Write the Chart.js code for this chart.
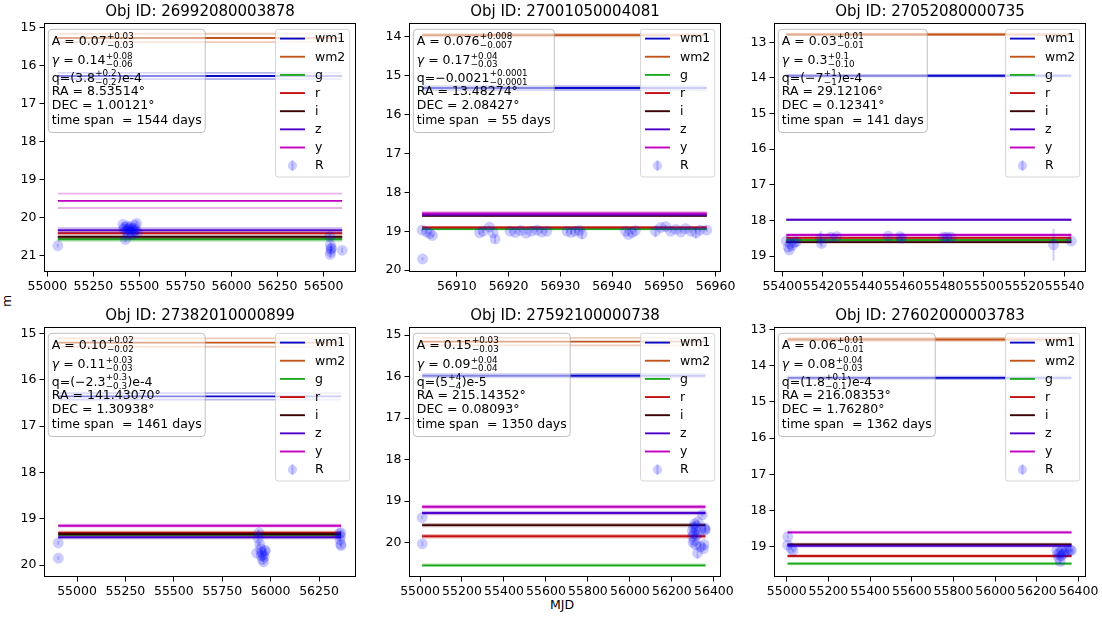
<!DOCTYPE html>
<html><head><meta charset="utf-8">
<script src="https://cdn.jsdelivr.net/npm/chart.js@4.4.1/dist/chart.umd.min.js"></script>
<style>
html,body{margin:0;padding:0;background:#fff;}
body{width:1102px;height:619px;overflow:hidden;position:relative;font-family:"DejaVu Sans",sans-serif;}
canvas{position:absolute;}
.lbl{position:absolute;font:12.5px "DejaVu Sans",sans-serif;color:#000;text-align:center;line-height:16px;height:16px;}
</style></head><body>
<div class="lbl" style="left:-3px;top:293px;width:20px;transform:rotate(-90deg);">m</div>
<div class="lbl" style="left:535px;top:597px;width:54px;">MJD</div>
<script>
// ---------------- data ----------------
const titles = ['Obj ID: 26992080003878','Obj ID: 27001050004081','Obj ID: 27052080000735',
                'Obj ID: 27382010000899','Obj ID: 27592100000738','Obj ID: 27602000003783'];
const bandNames = ['wm1','wm2','g','r','i','z','y'];
const bandColors = ['#0a0ac8','#c2561a','#1aaa1a','#c41010','#3c0000','#5000c8','#c000c0'];
const bandFaint  = ['rgba(10,10,200,0.3)','rgba(194,86,26,0.3)','rgba(26,170,26,0.3)','rgba(196,16,16,0.3)','rgba(60,0,0,0.3)','rgba(80,0,200,0.3)','rgba(192,0,192,0.3)'];

// band levels (wm1, wm2, g, r, i, z, y) and their uncertainties
const bands1 = [16.27, 15.27, 20.57, 20.41, 20.51, 20.33, 19.56];
const bandErr1 = [0.08, 0.11, 0.04, 0.03, 0.03, 0.05, 0.19];
const bands2 = [15.32, 13.96, 18.94, 18.90, 18.60, 18.57, 18.54];
const bandErr2 = [0.05, 0.03, 0.01, 0.01, 0.01, 0.02, 0.03];
const bands3 = [13.94, 12.78, 18.55, 18.49, 18.61, 17.98, 18.41];
const bandErr3 = [0.02, 0.02, 0.01, 0.01, 0.01, 0.01, 0.02];
const bands4 = [16.36, 15.20, 19.36, 19.30, 19.33, 19.40, 19.15];
const bandErr4 = [0.07, 0.09, 0.02, 0.02, 0.02, 0.02, 0.02];
const bands5 = [15.98, 15.16, 20.55, 19.85, 19.58, 19.29, 19.14];
const bandErr5 = [0.04, 0.09, 0.02, 0.03, 0.03, 0.03, 0.03];
const bands6 = [14.34, 13.28, 19.46, 19.25, 18.93, 18.97, 18.60];
const bandErr6 = [0.03, 0.04, 0.02, 0.02, 0.02, 0.02, 0.02];

// R-band photometry
const mjd1 = [55057, 55410, 55415, 55420, 55424, 55428, 55432, 55436, 55440, 55444, 55448, 55452, 55456, 55460, 55464, 55468, 55472, 55476, 55480, 55485, 55490, 56534, 56537, 56540, 56536, 56543, 56539, 56601];
const mag1 = [20.74, 20.18, 20.30, 20.25, 20.58, 20.35, 20.22, 20.30, 20.42, 20.27, 20.33, 20.24, 20.38, 20.30, 20.45, 20.28, 20.35, 20.20, 20.32, 20.15, 20.40, 20.50, 20.72, 20.83, 20.97, 20.80, 20.90, 20.86];
const err1 = [0.05, 0.05, 0.05, 0.05, 0.08, 0.05, 0.05, 0.05, 0.05, 0.05, 0.05, 0.05, 0.05, 0.05, 0.05, 0.05, 0.05, 0.05, 0.05, 0.05, 0.05, 0.08, 0.08, 0.08, 0.10, 0.08, 0.08, 0.07];

const mjd2 = [56903.3, 56903.4, 56904.2, 56904.8, 56905.3, 56914.4, 56915.1, 56916.3, 56917.0, 56917.4, 56920.3, 56921.3, 56922.3, 56923.4, 56924.4, 56925.5, 56926.4, 56927.4, 56931.3, 56932.1, 56932.9, 56933.7, 56934.2, 56942.6, 56943.2, 56943.9, 56944.5, 56948.4, 56949.4, 56950.4, 56951.3, 56952.3, 56953.3, 56954.2, 56955.2, 56956.2, 56957.0, 56958.3];
const mag2 = [18.97, 19.71, 19.02, 19.06, 19.11, 19.04, 19.00, 18.89, 19.04, 19.20, 19.00, 19.03, 18.98, 19.05, 19.00, 18.97, 19.02, 19.00, 19.00, 19.03, 19.00, 18.98, 19.07, 19.00, 19.08, 19.03, 18.98, 19.00, 18.90, 18.88, 19.00, 18.95, 19.02, 18.93, 19.00, 19.04, 18.97, 18.97];
const err2 = [0.04, 0.04, 0.04, 0.04, 0.04, 0.04, 0.04, 0.04, 0.04, 0.10, 0.04, 0.04, 0.04, 0.04, 0.04, 0.04, 0.04, 0.04, 0.04, 0.04, 0.04, 0.04, 0.13, 0.04, 0.04, 0.04, 0.04, 0.15, 0.04, 0.04, 0.04, 0.04, 0.04, 0.04, 0.04, 0.15, 0.04, 0.04];

const mjd3 = [55402, 55403, 55403.5, 55404, 55405, 55406, 55407, 55419, 55419.5, 55424, 55427, 55452.6, 55458.4, 55459.2, 55480, 55481.6, 55483.7, 55534.5, 55543.3];
const mag3 = [18.58, 18.75, 18.83, 18.65, 18.70, 18.62, 18.60, 18.50, 18.65, 18.47, 18.45, 18.44, 18.45, 18.50, 18.47, 18.47, 18.47, 18.68, 18.58];
const err3 = [0.04, 0.05, 0.05, 0.04, 0.04, 0.04, 0.04, 0.20, 0.10, 0.04, 0.04, 0.04, 0.05, 0.05, 0.04, 0.04, 0.04, 0.45, 0.04];

const mjd4 = [54903, 54903.5, 55928, 55936, 55940, 55944, 55948, 55952, 55955, 55958, 55961, 55964, 55967, 55970, 55973, 56356, 56358, 56360, 56362, 56363, 56364];
const mag4 = [19.52, 19.85, 19.74, 19.42, 19.30, 19.55, 19.65, 19.80, 19.72, 19.88, 19.78, 19.93, 19.82, 19.70, 19.68, 19.32, 19.45, 19.38, 19.55, 19.30, 19.58];
const err4 = [0.04, 0.04, 0.05, 0.18, 0.05, 0.05, 0.05, 0.05, 0.05, 0.05, 0.05, 0.06, 0.05, 0.05, 0.05, 0.04, 0.04, 0.04, 0.04, 0.04, 0.04];

const mjd5 = [55010, 55011, 56297, 56299, 56301, 56303, 56305, 56307, 56309, 56311, 56313, 56316, 56319, 56322, 56325, 56330, 56338, 56345, 56350, 56353, 56356, 56358, 56360];
const mag5 = [19.40, 20.03, 19.72, 19.85, 20.00, 19.62, 19.78, 19.95, 19.55, 19.70, 20.05, 19.60, 19.82, 20.25, 19.50, 19.75, 20.10, 19.33, 20.15, 20.05, 19.65, 19.70, 19.68];
const err5 = [0.04, 0.06, 0.05, 0.05, 0.05, 0.05, 0.05, 0.05, 0.05, 0.05, 0.05, 0.05, 0.05, 0.15, 0.05, 0.05, 0.10, 0.05, 0.05, 0.05, 0.05, 0.05, 0.05];

const mjd6 = [55004, 55005, 55022, 55030, 56296, 56300, 56304, 56308, 56312, 56316, 56320, 56325, 56330, 56340, 56350, 56360, 56366];
const mag6 = [18.95, 18.72, 19.04, 19.10, 19.10, 19.20, 19.30, 19.15, 19.40, 19.25, 19.10, 19.20, 19.15, 19.10, 19.12, 19.08, 19.10];
const err6 = [0.04, 0.04, 0.04, 0.04, 0.04, 0.04, 0.05, 0.04, 0.08, 0.04, 0.04, 0.04, 0.04, 0.04, 0.04, 0.04, 0.04];

// axis limits and ticks
const xLim1 = [54982, 56676], yLim1 = [14.876, 21.434];
const xLim2 = [56900.77, 56961.05], yLim2 = [13.649, 20.046];
const xLim3 = [55395.9, 55550.6], yLim3 = [12.459, 19.448];
const xLim4 = [54829.5, 56441], yLim4 = [14.864, 20.257];
const xLim5 = [54947.5, 56434], yLim5 = [14.807, 20.831];
const xLim6 = [54939, 56435.5], yLim6 = [12.937, 19.829];
const xTicks1 = [55000, 55250, 55500, 55750, 56000, 56250, 56500];
const xTicks2 = [56910, 56920, 56930, 56940, 56950, 56960];
const xTicks3 = [55400, 55420, 55440, 55460, 55480, 55500, 55520, 55540];
const xTicks4 = [55000, 55250, 55500, 55750, 56000, 56250];
const xTicks5 = [55000, 55200, 55400, 55600, 55800, 56000, 56200, 56400];
const xTicks6 = [55000, 55200, 55400, 55600, 55800, 56000, 56200, 56400];
const yTicks1 = [15, 16, 17, 18, 19, 20, 21];
const yTicks2 = [14, 15, 16, 17, 18, 19, 20];
const yTicks3 = [13, 14, 15, 16, 17, 18, 19];
const yTicks4 = [15, 16, 17, 18, 19, 20];
const yTicks5 = [15, 16, 17, 18, 19, 20];
const yTicks6 = [13, 14, 15, 16, 17, 18, 19];

// fit info text
const info1 = ['A = 0.07^{+0.03}_{−0.03}', 'γ = 0.14^{+0.08}_{−0.06}', 'q=(3.8^{+0.2}_{−0.2})e-4', 'RA = 8.53514°', 'DEC = 1.00121°', 'time span  = 1544 days'];
const info2 = ['A = 0.076^{+0.008}_{−0.007}', 'γ = 0.17^{+0.04}_{−0.03}', 'q=−0.0021^{+0.0001}_{−0.0001}', 'RA = 13.48274°', 'DEC = 2.08427°', 'time span  = 55 days'];
const info3 = ['A = 0.03^{+0.01}_{−0.01}', 'γ = 0.3^{+0.1}_{−0.10}', 'q=(−7^{+1}_{−1})e-4', 'RA = 29.12106°', 'DEC = 0.12341°', 'time span  = 141 days'];
const info4 = ['A = 0.10^{+0.02}_{−0.02}', 'γ = 0.11^{+0.03}_{−0.03}', 'q=(−2.3^{+0.3}_{−0.3})e-4', 'RA = 141.43070°', 'DEC = 1.30938°', 'time span  = 1461 days'];
const info5 = ['A = 0.15^{+0.03}_{−0.03}', 'γ = 0.09^{+0.04}_{−0.04}', 'q=(5^{+4}_{−4})e-5', 'RA = 215.14352°', 'DEC = 0.08093°', 'time span  = 1350 days'];
const info6 = ['A = 0.06^{+0.01}_{−0.01}', 'γ = 0.08^{+0.04}_{−0.03}', 'q=(1.8^{+0.1}_{−0.1})e-4', 'RA = 216.08353°', 'DEC = 1.76280°', 'time span  = 1362 days'];

// ---------------- layout ----------------
const FONT = '"DejaVu Sans", sans-serif';
const colL = [44, 409, 774], colR = [356, 721, 1086];
const rowT = [23, 327], rowB = [272, 577];
const Y_AXIS_W = 46, TITLE_H = 23, X_AXIS_H = 26, RIGHT_PAD = 20;

const panels = [
  {bands: bands1, bandErr: bandErr1, mjd: mjd1, mag: mag1, err: err1, xLim: xLim1, yLim: yLim1, xTicks: xTicks1, yTicks: yTicks1, info: info1},
  {bands: bands2, bandErr: bandErr2, mjd: mjd2, mag: mag2, err: err2, xLim: xLim2, yLim: yLim2, xTicks: xTicks2, yTicks: yTicks2, info: info2},
  {bands: bands3, bandErr: bandErr3, mjd: mjd3, mag: mag3, err: err3, xLim: xLim3, yLim: yLim3, xTicks: xTicks3, yTicks: yTicks3, info: info3},
  {bands: bands4, bandErr: bandErr4, mjd: mjd4, mag: mag4, err: err4, xLim: xLim4, yLim: yLim4, xTicks: xTicks4, yTicks: yTicks4, info: info4},
  {bands: bands5, bandErr: bandErr5, mjd: mjd5, mag: mag5, err: err5, xLim: xLim5, yLim: yLim5, xTicks: xTicks5, yTicks: yTicks5, info: info5},
  {bands: bands6, bandErr: bandErr6, mjd: mjd6, mag: mag6, err: err6, xLim: xLim6, yLim: yLim6, xTicks: xTicks6, yTicks: yTicks6, info: info6}
];

function parseRich(s) {
  const segs = [];
  const re = /\^\{([^}]*)\}_\{([^}]*)\}/g;
  let last = 0, m;
  const pushText = t => {
    const parts = t.split('γ');
    parts.forEach((p, i) => { if (i > 0) segs.push({t: 'γ', it: true}); if (p) segs.push({t: p}); });
  };
  while ((m = re.exec(s))) {
    if (m.index > last) pushText(s.slice(last, m.index));
    segs.push({sup: m[1], sub: m[2]});
    last = re.lastIndex;
  }
  if (last < s.length) pushText(s.slice(last));
  return segs;
}
function drawRich(ctx, segs, x, y, draw) {
  let cx = x;
  for (const g of segs) {
    if (g.t !== undefined) {
      ctx.font = (g.it ? 'italic ' : '') + '12.5px ' + FONT;
      if (draw) ctx.fillText(g.t, cx, y);
      cx += ctx.measureText(g.t).width;
    } else {
      ctx.font = '8.75px ' + FONT;
      const w = Math.max(ctx.measureText(g.sup).width, ctx.measureText(g.sub).width);
      if (draw) { ctx.fillText(g.sup, cx + 0.3, y - 5.3); ctx.fillText(g.sub, cx + 0.3, y + 3.0); }
      cx += w + 0.8;
    }
  }
  return cx - x;
}
function roundRect(ctx, x, y, w, h, r) {
  ctx.beginPath();
  ctx.moveTo(x + r, y); ctx.lineTo(x + w - r, y); ctx.arcTo(x + w, y, x + w, y + r, r);
  ctx.lineTo(x + w, y + h - r); ctx.arcTo(x + w, y + h, x + w - r, y + h, r);
  ctx.lineTo(x + r, y + h); ctx.arcTo(x, y + h, x, y + h - r, r);
  ctx.lineTo(x, y + r); ctx.arcTo(x, y, x + r, y, r); ctx.closePath();
}

function makePlugin(p) {
  return {
    id: 'panelDecor',
    beforeDatasetDraw(chart, args) {
      if (args.index !== 0) return;
      const ctx = chart.ctx, xs = chart.scales.x, ys = chart.scales.y, a = chart.chartArea;
      ctx.save();
      ctx.beginPath(); ctx.rect(a.left, a.top, a.right - a.left, a.bottom - a.top); ctx.clip();
      ctx.strokeStyle = 'rgba(0,0,255,0.2)'; ctx.lineWidth = 1.9;
      p.mjd.forEach((t, i) => {
        const x = xs.getPixelForValue(t);
        ctx.beginPath();
        ctx.moveTo(x, ys.getPixelForValue(p.mag[i] - p.err[i]));
        ctx.lineTo(x, ys.getPixelForValue(p.mag[i] + p.err[i]));
        ctx.stroke();
      });
      ctx.restore();
    },
    afterDatasetsDraw(chart) {
      const ctx = chart.ctx, a = chart.chartArea;
      ctx.save();
      // frame
      ctx.strokeStyle = '#000'; ctx.lineWidth = 1;
      ctx.strokeRect(a.left + 0.5, a.top + 0.5, a.right - a.left - 1, a.bottom - a.top - 1);
      // info text box
      const segsList = p.info.map(parseRich);
      let maxW = 0;
      segsList.forEach(s => { maxW = Math.max(maxW, drawRich(ctx, s, 0, 0, false)); });
      const bx = a.left + 4.3, by = a.top + 6.3, bw = maxW + 7, bh = 103.2;
      roundRect(ctx, bx, by, bw, bh, 3.7);
      ctx.fillStyle = 'rgba(255,255,255,0.5)'; ctx.fill();
      ctx.strokeStyle = 'rgba(150,150,150,0.6)'; ctx.lineWidth = 1; ctx.stroke();
      const baselines = [21.6, 40.8, 58.5, 71.5, 85.5, 101.2];
      ctx.fillStyle = '#000'; ctx.textBaseline = 'alphabetic'; ctx.textAlign = 'left';
      segsList.forEach((s, i) => drawRich(ctx, s, bx + 3.5, a.top + baselines[i], true));
      // legend
      ctx.font = '12.5px ' + FONT;
      const labels = bandNames.concat(['R']);
      let lw = 0; labels.forEach(l => { lw = Math.max(lw, ctx.measureText(l).width); });
      const legW = 4.4 + 25 + 10 + lw + 4.4, legH = 147.7;
      const lx = a.right - 6.3 - legW, ly = a.top + 6.3;
      roundRect(ctx, lx, ly, legW, legH, 2.5);
      ctx.fillStyle = 'rgba(255,255,255,0.8)'; ctx.fill();
      ctx.strokeStyle = 'rgba(204,204,204,0.8)'; ctx.lineWidth = 1; ctx.stroke();
      ctx.textBaseline = 'middle';
      labels.forEach((l, i) => {
        const cy = ly + 9.3 + i * 18.15;
        if (i < bandNames.length) {
          ctx.strokeStyle = bandColors[i]; ctx.lineWidth = 1.9;
          ctx.beginPath(); ctx.moveTo(lx + 4.4, cy); ctx.lineTo(lx + 29.4, cy); ctx.stroke();
        } else {
          const mx = lx + 16.9;
          ctx.strokeStyle = 'rgba(0,0,255,0.2)'; ctx.lineWidth = 1.9;
          ctx.beginPath(); ctx.moveTo(mx, cy - 5.5); ctx.lineTo(mx, cy + 5.5); ctx.stroke();
          ctx.fillStyle = 'rgba(0,0,255,0.2)';
          ctx.beginPath(); ctx.arc(mx, cy, 4.6, 0, Math.PI * 2); ctx.fill();
        }
        ctx.fillStyle = '#000';
        ctx.fillText(l, lx + 39.4, cy + 0.5);
      });
      ctx.restore();
    }
  };
}

Chart.defaults.font.family = FONT;
Chart.defaults.color = '#000';

panels.forEach((p, k) => {
  const col = k % 3, row = Math.floor(k / 3);
  const L = colL[col], R = colR[col], T = rowT[row], B = rowB[row];
  const cv = document.createElement('canvas');
  const W = (R - L) + Y_AXIS_W + RIGHT_PAD, H = (B - T) + TITLE_H + X_AXIS_H;
  cv.width = W; cv.height = H;
  cv.style.left = (L - Y_AXIS_W) + 'px'; cv.style.top = (T - TITLE_H) + 'px';
  cv.style.width = W + 'px'; cv.style.height = H + 'px';
  document.body.appendChild(cv);

  const tmin = Math.min(...p.mjd), tmax = Math.max(...p.mjd);
  const datasets = [];
  datasets.push({
    type: 'scatter', label: 'R',
    data: p.mjd.map((t, i) => ({x: t, y: p.mag[i]})),
    pointRadius: 5.3, pointBackgroundColor: 'rgba(0,0,255,0.2)', pointBorderColor: 'rgba(0,0,255,0.08)',
    pointBorderWidth: 0.6, showLine: false
  });
  for (let b = bandNames.length - 1; b >= 0; b--) {
    const v = p.bands[b];
    const line = (val, color, label) => ({
      type: 'line', label, data: [{x: tmin, y: val}, {x: tmax, y: val}],
      borderColor: color, borderWidth: 1.9, pointRadius: 0, fill: false, tension: 0
    });
    datasets.push(line(v, bandColors[b], bandNames[b]));
    datasets.push(line(v - p.bandErr[b], bandFaint[b], bandNames[b] + ' −σ'));
    datasets.push(line(v + p.bandErr[b], bandFaint[b], bandNames[b] + ' +σ'));
  }

  new Chart(cv, {
    data: {datasets},
    options: {
      responsive: false, animation: false, events: [],
      layout: {padding: {left: 0, right: RIGHT_PAD, top: 0, bottom: 0}},
      plugins: {
        legend: {display: false}, tooltip: {enabled: false},
        title: {display: true, text: titles[k], fullSize: false, color: '#000',
                font: {family: FONT, size: 15, weight: 'normal', lineHeight: 1.2}, padding: {top: 3, bottom: 2}}
      },
      scales: {
        x: {
          type: 'linear', position: 'bottom', min: p.xLim[0], max: p.xLim[1],
          afterBuildTicks: s => { s.ticks = p.xTicks.map(v => ({value: v})); },
          afterFit: s => { s.height = X_AXIS_H; s.paddingLeft = 0; s.paddingRight = 0; s.paddingTop = 0; s.paddingBottom = 0; },
          ticks: {autoSkip: false, maxRotation: 0, minRotation: 0, padding: 3, color: '#000',
                  font: {family: FONT, size: 12.5}, callback: v => String(v)},
          grid: {display: true, drawOnChartArea: false, drawTicks: true, tickLength: 4.5, color: '#000', lineWidth: 1},
          border: {display: false}
        },
        y: {
          type: 'linear', position: 'left', reverse: true, min: p.yLim[0], max: p.yLim[1],
          afterBuildTicks: s => { s.ticks = p.yTicks.map(v => ({value: v})); },
          afterFit: s => { s.width = Y_AXIS_W; s.paddingTop = 0; s.paddingBottom = 0; s.paddingLeft = 0; s.paddingRight = 0; },
          ticks: {autoSkip: false, padding: 3, color: '#000', font: {family: FONT, size: 12.5}, callback: v => String(v)},
          grid: {display: true, drawOnChartArea: false, drawTicks: true, tickLength: 4.5, color: '#000', lineWidth: 1},
          border: {display: false}
        }
      }
    },
    plugins: [makePlugin(p)]
  });
});
</script>
</body></html>
